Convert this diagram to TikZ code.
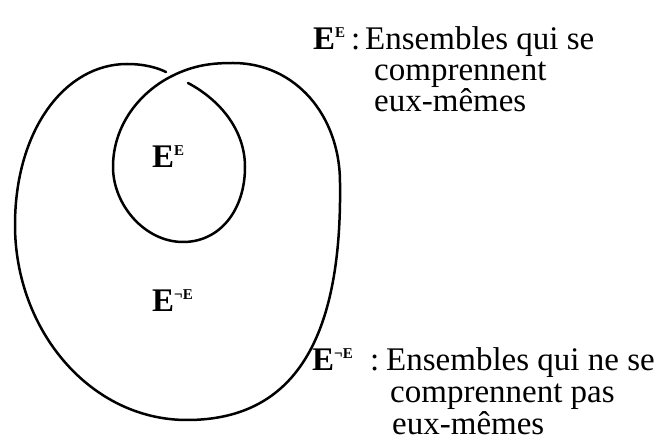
\documentclass[tikz,border=0pt]{standalone}
\usepackage{fontspec}
\setmainfont{Liberation Serif}
\usepackage{tikz}
\usetikzlibrary{positioning}

\begin{document}
\begin{tikzpicture}[
  x=1pt, y=-1pt,
  loop_line/.style={line width=2.5pt, line cap=round},
  sym/.style={inner sep=0pt, anchor=base west, font=\bfseries\fontsize{33}{33}\selectfont},
  desc/.style={inner sep=0pt, anchor=base west, font=\fontsize{33}{33}\selectfont}
]
\useasboundingbox (0,0) rectangle (662,446);

% Superscript set
\def\supE#1{\raisebox{12pt}{\fontsize{15}{15}\selectfont\bfseries #1}}

% The curve: inner loop, through the crossing, round the outside
\draw[loop_line] (188,83)
  .. controls (220,100) and (245,130) .. (245,167)
  .. controls (245,210) and (220,242) .. (183,242)
  .. controls (145,242) and (113,205) .. (113,167)
  .. controls (113,125) and (140,92) .. (172,76)
  .. controls (194,65) and (212,63) .. (233,63)
  .. controls (295,63) and (340,115) .. (340,183)
  .. controls (342,330) and (300,420) .. (187,420)
  .. controls (90,420) and (15,330) .. (15,225)
  .. controls (15,130) and (65,64) .. (127,64)
  .. controls (145,64) and (158,68) .. (166,72);

% Labels inside
\node[sym] (inE) at (152,168) {E\supE{E}};
\node[sym] (inNotE) at (152,312) {E\supE{¬E}};

% Legend, top
\node[sym] (keyE) at (313,50) {E\supE{E}};
\node[desc] (colA) at (351,50) {:};
\node[desc] (lineA1) at (365,50) {Ensembles qui se};
\node[desc] (lineA2) at (374,81) {comprennent};
\node[desc] (lineA3) at (374,112) {eux-mêmes};

% Legend, bottom
\node[sym] (keyNotE) at (312,371) {E\supE{¬E}};
\node[desc] (colB) at (370,371) {:};
\node[desc] (lineB1) at (386,371) {Ensembles qui ne se};
\node[desc] (lineB2) at (390,403) {comprennent pas};
\node[desc] (lineB3) at (392,435) {eux-mêmes};

\end{tikzpicture}
\end{document}
